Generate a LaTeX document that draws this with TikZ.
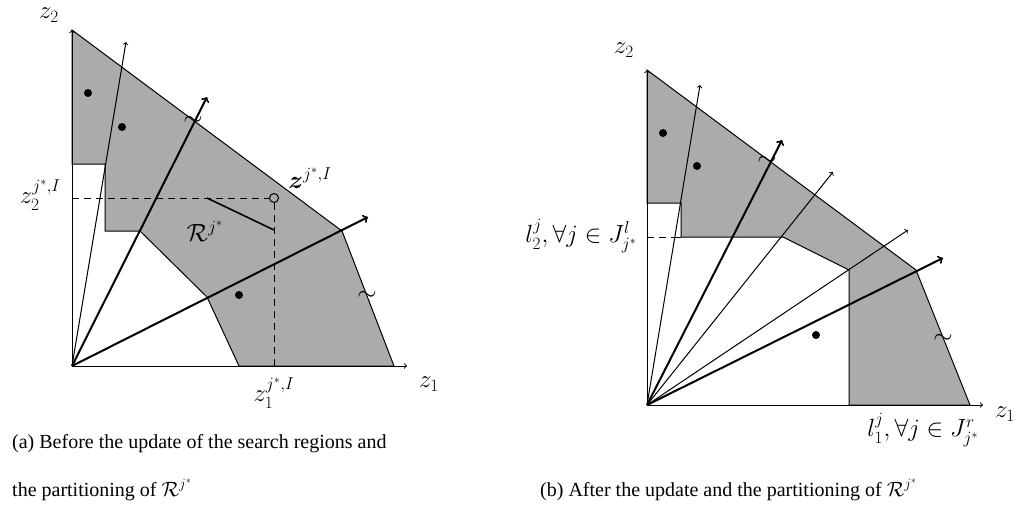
\documentclass[tikz,border=0pt]{standalone}
\usepackage{amsmath}
\usepackage{fontspec}
\setmainfont{Liberation Serif}
\begin{document}
\begin{tikzpicture}[x=1pt,y=-1pt,
  >=to,
  region/.style={fill=black!33,draw=black,line width=1pt},
  thinray/.style={->,line width=1pt},
  thickray/.style={->,line width=2pt},
  guide/.style={dash pattern=on 7pt off 5pt,line width=1pt},
  blob/.style={circle,fill=black,inner sep=0pt,minimum size=8pt},
  lab/.style={font=\fontsize{26}{31}\selectfont,inner sep=0pt},
  captext/.style={font=\fontsize{20}{24}\selectfont,inner sep=0pt,anchor=base west},
  cut/.style={font=\fontsize{26}{31}\selectfont,inner sep=0pt}
]
\useasboundingbox (0,0) rectangle (1026,517);

% ---------------- panel (a) ----------------
\coordinate (aO) at (72,366);
\coordinate (aY) at (72,30);
\coordinate (aX) at (407,366);
\coordinate (aR1) at (126,42);
\coordinate (aR2) at (207,97);
\coordinate (aR3) at (368,217);

\draw[region] (aY) -- (342,231) -- (394,366) -- (239,366) -- (207,297)
  -- (140,231) -- (105,231) -- (105,164) -- (72,164) -- cycle;

\draw[thinray] (aO) -- (aX);
\draw[thinray] (aO) -- (aY);
\draw[thinray] (aO) -- (aR1);
\draw[thickray] (aO) -- (aR2);
\draw[thickray] (aO) -- (aR3);

\node[blob] (ad1) at (88,93) {};
\node[blob] (ad2) at (122,127) {};
\node[blob] (ad3) at (239,295) {};

\node[circle,draw,line width=1pt,minimum size=9pt,inner sep=0pt] (zI) at (274,198) {};
\coordinate (aH) at (72,198);
\coordinate (aV) at (274,366);
\draw[guide] (aH) -- (zI.west);
\draw[guide] (zI.south) -- (aV);

\coordinate (aP1) at (207,198);
\coordinate (aP2) at (274,230);
\draw[line width=1.6pt] (aP1) -- (aP2);

\node[cut] (at1) at (193,121) {$\sim$};
\node[cut] (at2) at (367,296) {$\sim$};

\node[lab] (az2) at (49,15) {$z_2$};
\node[lab] (az1) at (429,384) {$z_1$};
\node[lab,anchor=east] (az2I) at (61,195) {$z_2^{j^*,I}$};
\node[lab] (az1I) at (274,393) {$z_1^{j^*,I}$};
\node[lab] (azI) at (310,178) {$\boldsymbol{z}^{j^*,I}$};
\node[lab] (aRj) at (205,231) {$\mathcal{R}^{j^*}$};

\node[captext] (capa1) at (12,448) {(a) Before the update of the search regions and};
\node[captext] (capa2) at (12,496) {the partitioning of $\mathcal{R}^{j^*}$};

% ---------------- panel (b) ----------------
\coordinate (bO) at (647,405);
\coordinate (bY) at (647,70);
\coordinate (bX) at (983,405);
\coordinate (bR1) at (700,85);
\coordinate (bR2) at (782,140);
\coordinate (bR3) at (833,172);
\coordinate (bR4) at (908,230);
\coordinate (bR5) at (943,258);

\draw[region] (bY) -- (916,270) -- (970,405) -- (849,405) -- (849,270)
  -- (783,237) -- (681,237) -- (681,203) -- (647,203) -- cycle;
\draw[line width=1pt] (675,237) -- (681,237);

\draw[thinray] (bO) -- (bX);
\draw[thinray] (bO) -- (bY);
\draw[thinray] (bO) -- (bR1);
\draw[thickray] (bO) -- (bR2);
\draw[thinray] (bO) -- (bR3);
\draw[thinray] (bO) -- (bR4);
\draw[thickray] (bO) -- (bR5);

\coordinate (bH) at (647,237);
\coordinate (bHe) at (675,237);
\draw[guide] (bH) -- (bHe);

\node[blob] (bd1) at (663,133) {};
\node[blob] (bd2) at (697,166) {};
\node[blob] (bd3) at (816,335) {};

\node[cut] (bt1) at (767,161) {$\sim$};
\node[cut] (bt2) at (943,339) {$\sim$};

\node[lab] (bz2) at (624,50) {$z_2$};
\node[lab] (bz1) at (1005,414) {$z_1$};
\node[lab,anchor=east] (bl2) at (637,236) {$l_2^j, \forall j \in J^l_{j^*}$};
\node[lab] (bl1) at (923,430) {$l_1^j, \forall j \in J^r_{j^*}$};

\node[captext] (capb) at (540,496) {(b) After the update and the partitioning of $\mathcal{R}^{j^*}$};
\end{tikzpicture}
\end{document}
